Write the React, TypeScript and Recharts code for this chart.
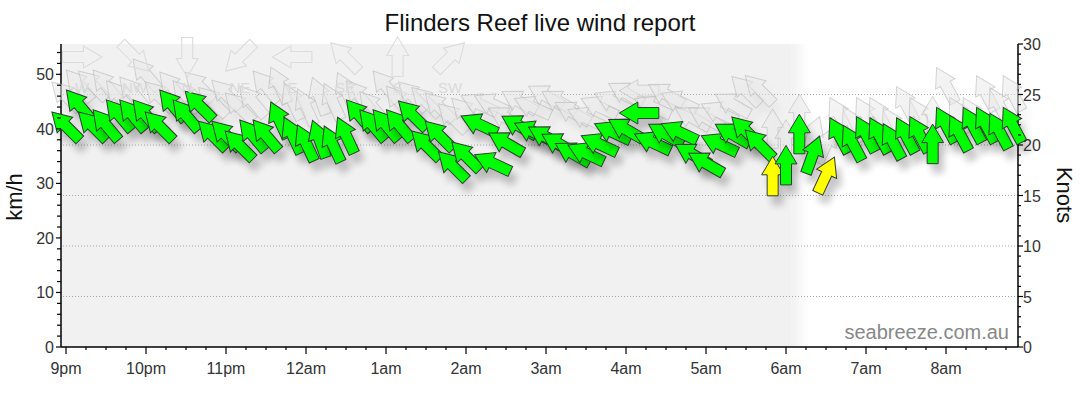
import { ComposedChart, Scatter, XAxis, YAxis, ReferenceLine, ReferenceArea } from 'recharts';

// observation times, minutes after 9pm (10-minute readings)
const OBS_MINUTES = [
  0, 10, 20, 30, 40, 50, 60, 70, 80, 90, 100, 110,
  120, 130, 140, 150, 160, 170, 180, 190, 200, 210, 220, 230,
  240, 250, 260, 270, 280, 290, 300, 310, 320, 330, 340, 350,
  360, 370, 380, 390, 400, 410, 420, 430, 440, 450, 460, 470,
  480, 490, 500, 510, 520, 530, 540, 550, 560, 570, 580, 590,
  600, 610, 620, 630, 640, 650, 660, 670, 680, 690, 700, 710,
];

// mean wind, km/h
const WIND_KMH = [
  40.5, 44.3, 40.5, 40.7, 42.5, 42.5, 42.5, 40.5, 44.3, 42.5, 44.3, 38.8,
  38.8, 37.0, 38.8, 38.8, 41.6, 38.8, 37.4, 38.1, 37.2, 38.8, 42.5, 40.7,
  40.7, 40.7, 42.5, 37.0, 38.8, 33.2, 35.0, 40.8, 33.7, 37.4, 40.5, 39.5,
  38.5, 37.2, 35.5, 35.5, 37.2, 39.4, 39.9, 42.9, 37.5, 39.0, 39.4, 35.3,
  33.7, 37.2, 39.0, 39.6, 37.2, 31.3, 33.3, 39.0, 35.2, 31.5, 38.8, 37.4,
  39.0, 38.8, 37.7, 38.8, 39.0, 37.2, 40.7, 39.2, 40.7, 40.7, 39.6, 40.7,
];

// wind direction (blowing from), degrees
const WIND_FROM = [
  135, 140, 135, 140, 140, 140, 140, 135, 140, 140, 135, 135,
  135, 135, 140, 140, 155, 155, 155, 160, 155, 155, 140, 140,
  140, 140, 135, 135, 135, 135, 135, 115, 115, 120, 120, 115,
  120, 120, 120, 115, 115, 115, 120, 90, 115, 120, 115, 120,
  120, 115, 120, 135, 135, 180, 180, 180, 200, 205, 152, 152,
  152, 152, 152, 152, 152, 180, 152, 152, 152, 152, 152, 152,
];

// gusts, km/h
const GUST_KMH = [
  46.0, 48.0, 48.0, 48.0, 46.0, 46.7, 50.0, 46.0, 47.6, 46.0, 47.8, 45.0,
  46.3, 44.0, 45.0, 47.8, 48.0, 45.0, 44.0, 46.0, 45.0, 47.0, 46.0, 44.0,
  47.8, 45.0, 46.0, 45.0, 44.0, 42.0, 43.0, 44.5, 44.5, 42.0, 45.0, 44.0,
  46.0, 45.0, 43.0, 42.0, 44.0, 45.0, 46.5, 47.0, 44.0, 46.3, 45.0, 42.0,
  42.0, 43.0, 44.5, 47.0, 47.2, 40.0, 38.0, 42.7, 38.8, 37.0, 42.5, 40.8,
  42.5, 42.5, 40.7, 44.5, 42.5, 42.3, 48.0, 42.5, 42.5, 46.5, 44.3, 46.5,
];

const HOUR_LABELS = ['9pm', '10pm', '11pm', '12am', '1am', '2am', '3am', '4am', '5am', '6am', '7am', '8am'];
const COMPASS_LABELS = ['W', 'NW', 'N', 'NE', 'E', 'SE', 'S', 'SW'];
const COMPASS_FROM = [270, 315, 0, 45, 90, 135, 180, 225];

const KMH_PER_KNOT = 1.852;
const NIGHT_END = 544; // 6:04am, shading fades out after this
const NIGHT_FADE_END = 557;

const FONT = 'Arial, "Liberation Sans", sans-serif';
const ARROW_PATH = 'M0,-20 L11,-1.5 L5.5,-1.5 L5.5,19.5 L-5.5,19.5 L-5.5,-1.5 L-11,-1.5 Z';

const windData = OBS_MINUTES.map((t, i) => ({ t, v: WIND_KMH[i], dir: WIND_FROM[i] }));
const gustData = OBS_MINUTES.map((t, i) => ({ t, v: GUST_KMH[i], dir: WIND_FROM[i] }));
const knotData = OBS_MINUTES.map((t, i) => ({ t, v: WIND_KMH[i] / KMH_PER_KNOT }));

const xTicks = Array.from({ length: 48 }, (_, i) => i * 15);
const kmhTicks = Array.from({ length: 28 }, (_, i) => i * 2);
const knotTicks = Array.from({ length: 31 }, (_, i) => i);
const gridKnots = [5, 10, 15, 20, 25];

function WindArrow(props: any) {
  const { cx, cy, payload } = props;
  if (cx == null || cy == null) return <g />;
  const slow = payload.v < 32.4;
  return (
    <g transform={`translate(${cx},${cy})`} filter="url(#arrowShadow)">
      <path
        d={ARROW_PATH}
        transform={`rotate(${(payload.dir + 180) % 360})`}
        fill={slow ? '#ffff00' : '#00ff00'}
        stroke="#333a33"
        strokeWidth={1}
      />
    </g>
  );
}

function GustArrow(props: any) {
  const { cx, cy, payload } = props;
  if (cx == null || cy == null) return <g />;
  return (
    <g transform={`translate(${cx},${cy})`} filter="url(#gustShadow)">
      <path
        d={ARROW_PATH}
        transform={`rotate(${(payload.dir + 180) % 360})`}
        fill="rgba(234,234,234,0.5)"
        stroke="rgba(185,185,185,0.6)"
        strokeWidth={1}
      />
    </g>
  );
}

const Hidden = () => <g />;

function XTick(props: any) {
  const { x, y, payload } = props;
  const v = payload.value;
  const major = v % 60 === 0;
  return (
    <g>
      <line x1={x} x2={x} y1={y} y2={y + (major ? 7 : 3)} stroke="#000" strokeWidth={1.2} />
      {major && (
        <text x={x} y={y + 27} textAnchor="middle" fontSize={16} fontFamily={FONT} fill="#333">
          {HOUR_LABELS[v / 60]}
        </text>
      )}
    </g>
  );
}

function KmhTick(props: any) {
  const { x, y, payload } = props;
  const v = payload.value;
  const major = v % 10 === 0;
  return (
    <g>
      <line x1={x - (major ? 5 : 4)} x2={x} y1={y} y2={y} stroke="#000" strokeWidth={1.2} />
      {major && (
        <text x={x - 7} y={y + 6} textAnchor="end" fontSize={16} fontFamily={FONT} fill="#333">
          {v}
        </text>
      )}
    </g>
  );
}

function KnotTick(props: any) {
  const { x, y, payload } = props;
  const v = payload.value;
  const major = v % 5 === 0;
  return (
    <g>
      <line x1={x} x2={x + (major ? 5 : 3)} y1={y} y2={y} stroke="#000" strokeWidth={1.2} />
      {major && (
        <text x={x + 5} y={y + 6} textAnchor="start" fontSize={16} fontFamily={FONT} fill="#333">
          {v}
        </text>
      )}
    </g>
  );
}

// faint direction key along the top of the plot
function CompassKey() {
  return (
    <g>
      {COMPASS_LABELS.map((label, i) => {
        const cx = 82 + i * 52.6;
        return (
          <g key={label}>
            <path
              d={ARROW_PATH}
              transform={`translate(${cx},57) rotate(${(COMPASS_FROM[i] + 180) % 360})`}
              fill="none"
              stroke="#dcdcdc"
              strokeWidth={1.1}
            />
            <text x={cx} y={93} textAnchor="middle" fontSize={15} fontFamily={FONT} fill="#dadada">
              {label}
            </text>
          </g>
        );
      })}
    </g>
  );
}

export default function App() {
  return (
    <div style={{ position: 'absolute', left: 0, top: 0, width: 1080, height: 414, background: '#fff', fontFamily: FONT }}>
      <svg width={0} height={0} style={{ position: 'absolute' }}>
        <defs>
          <filter id="arrowShadow" x="-60%" y="-60%" width="240%" height="240%">
            <feGaussianBlur in="SourceAlpha" stdDeviation="3.5" />
            <feOffset dx="5" dy="9" result="blur" />
            <feComponentTransfer>
              <feFuncA type="linear" slope="0.22" />
            </feComponentTransfer>
            <feMerge>
              <feMergeNode />
              <feMergeNode in="SourceGraphic" />
            </feMerge>
          </filter>
          <filter id="gustShadow" x="-60%" y="-60%" width="240%" height="240%">
            <feGaussianBlur in="SourceAlpha" stdDeviation="3.5" />
            <feOffset dx="5" dy="9" result="blur" />
            <feComponentTransfer>
              <feFuncA type="linear" slope="0.06" />
            </feComponentTransfer>
            <feMerge>
              <feMergeNode />
              <feMergeNode in="SourceGraphic" />
            </feMerge>
          </filter>
          <linearGradient id="nightFade" x1="0" x2="1" y1="0" y2="0">
            <stop offset="0%" stopColor="#f1f1f1" />
            <stop offset="100%" stopColor="#ffffff" />
          </linearGradient>
        </defs>
      </svg>

      <ComposedChart width={1080} height={414} margin={{ top: 44, right: 0, bottom: 0, left: 0 }}>
        <XAxis
          type="number"
          dataKey="t"
          domain={[-3.75, 714]}
          ticks={xTicks}
          tick={<XTick />}
          tickLine={false}
          tickSize={0}
          tickMargin={0}
          height={67}
          axisLine={{ stroke: '#000', strokeWidth: 1.5 }}
          interval={0}
        />
        <YAxis
          yAxisId="kmh"
          orientation="left"
          type="number"
          domain={[0, 30 * KMH_PER_KNOT]}
          ticks={kmhTicks}
          tick={<KmhTick />}
          tickLine={false}
          tickSize={0}
          tickMargin={0}
          width={61}
          interval={0}
          axisLine={{ stroke: '#000', strokeWidth: 1.5 }}
        />
        <YAxis
          yAxisId="kt"
          orientation="right"
          type="number"
          domain={[0, 30]}
          ticks={knotTicks}
          tick={<KnotTick />}
          tickLine={false}
          tickSize={0}
          tickMargin={0}
          width={62}
          interval={0}
          axisLine={{ stroke: '#000', strokeWidth: 1.5 }}
        />
        <ReferenceArea yAxisId="kmh" x1={-3.75} x2={NIGHT_END} fill="#f1f1f1" fillOpacity={1} stroke="none" />
        <ReferenceArea yAxisId="kmh" x1={NIGHT_END} x2={NIGHT_FADE_END} fill="url(#nightFade)" fillOpacity={1} stroke="none" />
        {gridKnots.map((k) => (
          <ReferenceLine key={k} yAxisId="kt" y={k} stroke="#a8a8a8" strokeDasharray="1 2" />
        ))}
        <Scatter yAxisId="kt" data={knotData} dataKey="v" shape={Hidden} isAnimationActive={false} />
        <Scatter yAxisId="kmh" data={gustData} dataKey="v" shape={GustArrow} isAnimationActive={false} />
        <Scatter yAxisId="kmh" data={windData} dataKey="v" shape={WindArrow} isAnimationActive={false} />
      </ComposedChart>

      <svg width={1080} height={414} style={{ position: 'absolute', left: 0, top: 0, pointerEvents: 'none' }}>
        <CompassKey />
        <text x={540} y={31} textAnchor="middle" fontSize={24} fontFamily={FONT} fill="#111">
          Flinders Reef live wind report
        </text>
        <text transform="translate(22,197) rotate(-90)" textAnchor="middle" fontSize={22} fontFamily={FONT} fill="#111">
          km/h
        </text>
        <text transform="translate(1057,195) rotate(90)" textAnchor="middle" fontSize={22} fontFamily={FONT} fill="#111">
          Knots
        </text>
        <text x={1009} y={339} textAnchor="end" fontSize={20} fontFamily={FONT} fill="#888">
          seabreeze.com.au
        </text>
      </svg>
    </div>
  );
}
